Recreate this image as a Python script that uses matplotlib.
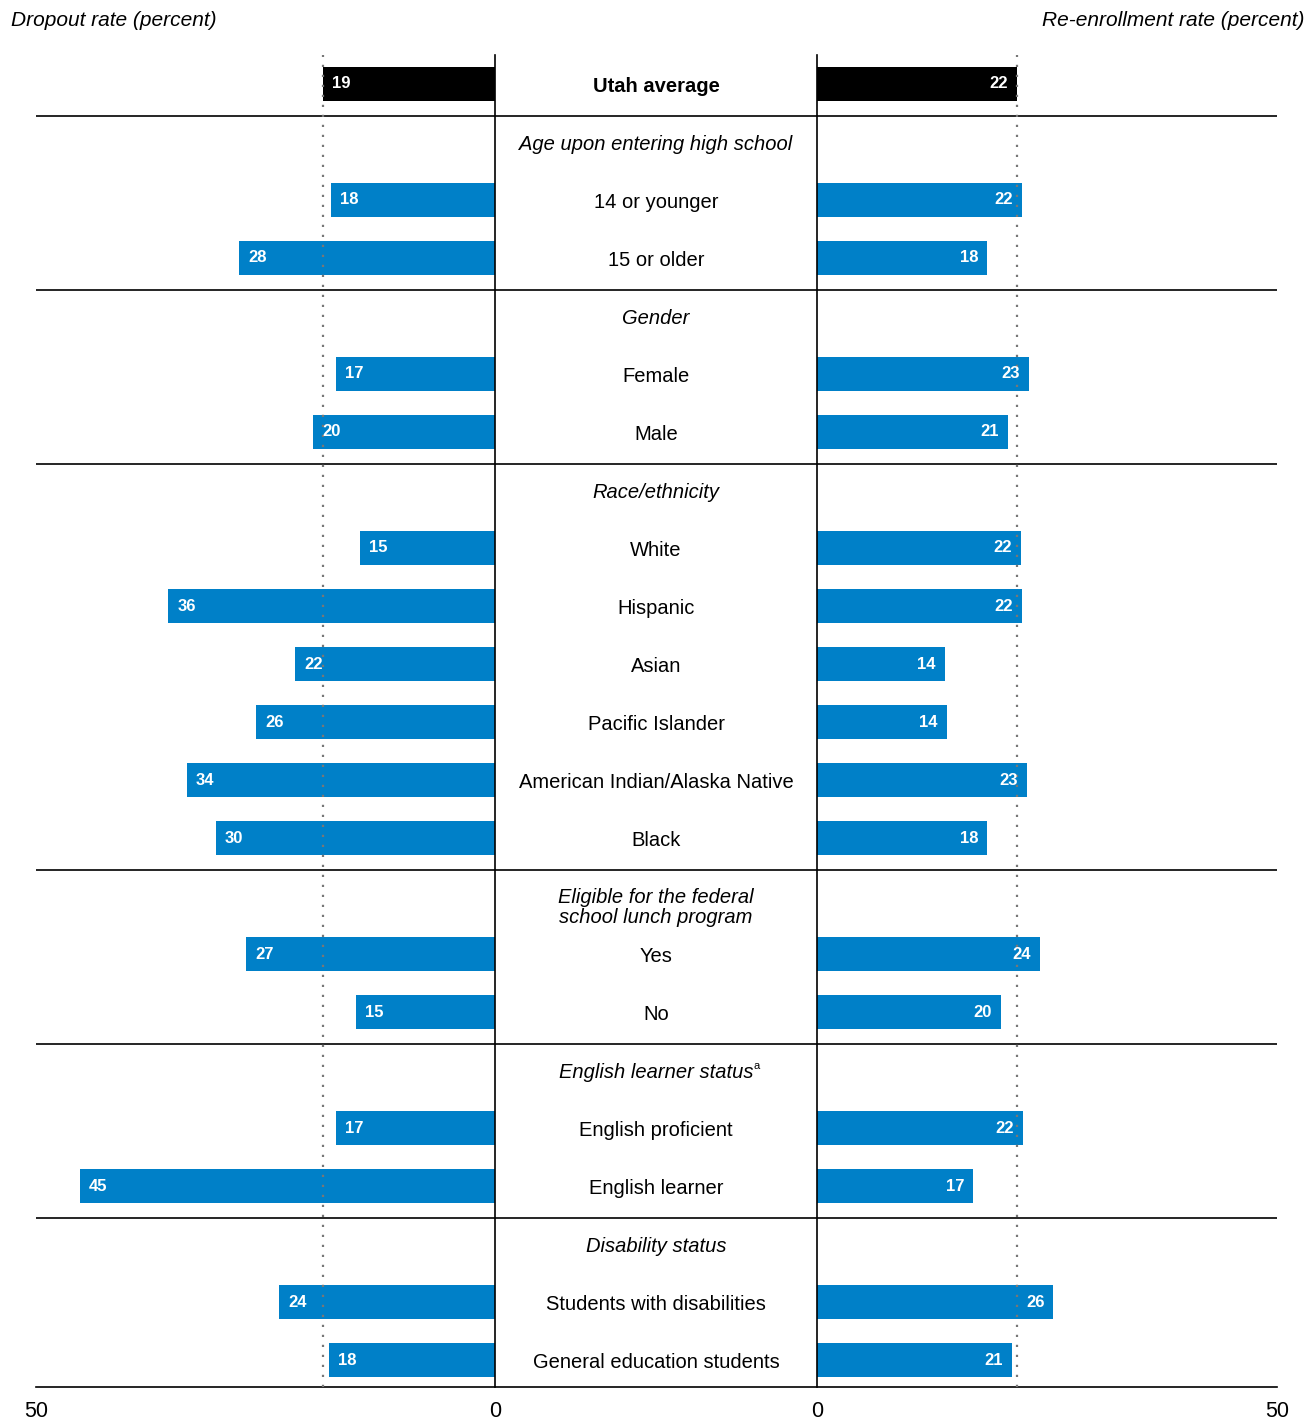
import matplotlib
matplotlib.use("Agg")
import matplotlib.pyplot as plt

plt.rcParams['font.family'] = ['Liberation Sans', 'DejaVu Sans']

# data
sections = ['Age upon entering high school', 'Gender', 'Race/ethnicity',
            'Eligible for the federal\nschool lunch program', 'English learner status',
            'Disability status']
groups = [
    ['14 or younger', '15 or older'],
    ['Female', 'Male'],
    ['White', 'Hispanic', 'Asian', 'Pacific Islander', 'American Indian/Alaska Native', 'Black'],
    ['Yes', 'No'],
    ['English proficient', 'English learner'],
    ['Students with disabilities', 'General education students'],
]
dropout = [17.9, 27.9, 17.3, 19.8, 14.7, 35.6, 21.8, 26.0, 33.6, 30.4,
           27.1, 15.1, 17.3, 45.2, 23.5, 18.1]
dropout_lbl = [18, 28, 17, 20, 15, 36, 22, 26, 34, 30, 27, 15, 17, 45, 24, 18]
reenroll = [22.3, 18.5, 23.0, 20.8, 22.2, 22.3, 13.9, 14.1, 22.8, 18.5,
            24.2, 20.0, 22.4, 17.0, 25.7, 21.2]
reenroll_lbl = [22, 18, 23, 21, 22, 22, 14, 14, 23, 18, 24, 20, 22, 17, 26, 21]
avg_dropout, avg_dropout_lbl = 18.7, 19
avg_reenroll, avg_reenroll_lbl = 21.7, 22

blue = '#0080C8'
fs = 14.5
W, H = 1309, 1422
fig = plt.figure(figsize=(W / 100, H / 100), dpi=100)

top, bot = 55, 1387
ylim = ((bot - 84) / 58, (top - 84) / 58)
fy = 1 - bot / H
fh = (bot - top) / H

bg = fig.add_axes([36 / W, fy, (1277 - 36) / W, fh])
axl = fig.add_axes([36 / W, fy, 459 / W, fh])
axr = fig.add_axes([817 / W, fy, 460 / W, fh])

for a in (bg, axl, axr):
    a.set_ylim(*ylim)
    a.patch.set_visible(False)
    for s in a.spines.values():
        s.set_visible(False)
bg.set_xlim(0, 1)
bg.set_xticks([])
bg.set_yticks([])
bg.spines['bottom'].set_visible(True)
bg.spines['bottom'].set_linewidth(1.2)

axl.set_xlim(50, 0)
axr.set_xlim(0, 50)
axl.spines['right'].set_visible(True)
axr.spines['left'].set_visible(True)
for a in (axl, axr):
    a.spines['right' if a is axl else 'left'].set_linewidth(1.2)
    a.set_yticks([])
    a.set_xticks([50, 0])
    a.tick_params(axis='x', length=0, pad=10, labelsize=15.5)

bh = 0.59
cx = (656 - 36) / (1277 - 36)

def bar_pair(y, dv, dl, rv, rl, color):
    axl.barh(y, dv, height=bh, color=color)
    axr.barh(y, rv, height=bh, color=color)
    axl.annotate(str(dl), (dv, y), xytext=(6.5, 0), textcoords='offset points',
                 ha='left', va='center', color='white', fontsize=12, fontweight='bold')
    axr.annotate(str(rl), (rv, y), xytext=(-6.5, 0), textcoords='offset points',
                 ha='right', va='center', color='white', fontsize=12, fontweight='bold')

# Utah average
bar_pair(0, avg_dropout, avg_dropout_lbl, avg_reenroll, avg_reenroll_lbl, 'black')
bg.text(cx, 0.05, 'Utah average', ha='center', va='center', fontsize=fs, fontweight='bold')
bg.axhline(0.55, color='black', lw=1.2)

row = 1
k = 0
for si, (hdr, cats) in enumerate(zip(sections, groups)):
    if '\n' in hdr:
        bg.text(cx, row + 0.2, hdr, ha='center', va='center', fontsize=fs,
                style='italic', linespacing=1.1)
    else:
        t = bg.text(cx, row + 0.05, hdr, ha='center', va='center', fontsize=fs, style='italic')
        if hdr.startswith('English'):
            bg.annotate('a', xy=(1, 1), xycoords=t, xytext=(0, 1.5),
                        textcoords='offset points', fontsize=8, ha='left', va='top')
    row += 1
    for c in cats:
        bar_pair(row, dropout[k], dropout_lbl[k], reenroll[k], reenroll_lbl[k], blue)
        bg.text(cx, row + 0.05, c, ha='center', va='center', fontsize=fs)
        row += 1
        k += 1
    if si < len(sections) - 1:
        bg.axhline(row - 1 + 0.55, color='black', lw=1.2)

axl.axvline(avg_dropout, color='#777777', ls=(0, (1, 3.5)), lw=1.6)
axr.axvline(avg_reenroll, color='#777777', ls=(0, (1, 3.5)), lw=1.6)

fig.text(11 / W, 1 - 21 / H, 'Dropout rate (percent)', ha='left', va='center',
         fontsize=15, style='italic')
fig.text(1305 / W, 1 - 21 / H, 'Re-enrollment rate (percent)', ha='right', va='center',
         fontsize=15, style='italic')

fig.savefig('out.png', dpi=100)
